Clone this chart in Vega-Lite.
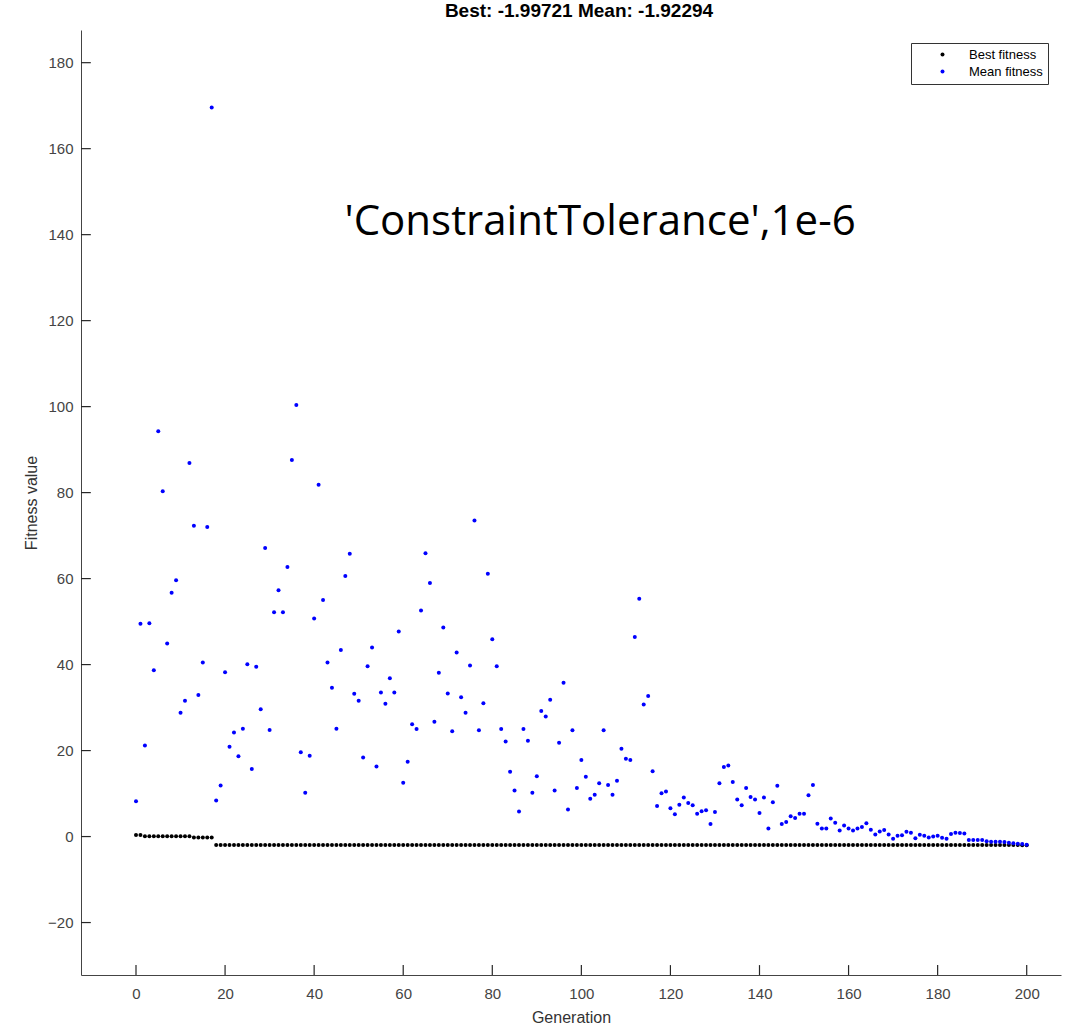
{
  "$schema": "https://vega.github.io/schema/vega-lite/v6.json",
  "width": 980,
  "height": 945,
  "autosize": {"type": "none"},
  "padding": {"left": 81, "top": 30, "right": 13, "bottom": 54},
  "background": "white",
  "title": {"text": "Best: -1.99721 Mean: -1.92294", "font": "Liberation Sans", "fontSize": 19, "fontWeight": "bold", "color": "black", "anchor": "middle", "offset": 9, "dx": 8},
  "config": {"view": {"stroke": null}, "font": "Liberation Sans"},
  "datasets": {
    "ga": [
      {"gen":0,"best":0.35,"mean":8.2},{"gen":1,"best":0.35,"mean":49.5},{"gen":2,"best":0.05,"mean":21.2},{"gen":3,"best":0.05,"mean":49.6},{"gen":4,"best":0.05,"mean":38.7},
      {"gen":5,"best":0.05,"mean":94.3},{"gen":6,"best":0.05,"mean":80.3},{"gen":7,"best":0.05,"mean":44.9},{"gen":8,"best":0.05,"mean":56.7},{"gen":9,"best":0.05,"mean":59.6},
      {"gen":10,"best":0.05,"mean":28.8},{"gen":11,"best":0.05,"mean":31.6},{"gen":12,"best":0.05,"mean":86.9},{"gen":13,"best":-0.2,"mean":72.3},{"gen":14,"best":-0.2,"mean":32.9},
      {"gen":15,"best":-0.2,"mean":40.5},{"gen":16,"best":-0.2,"mean":72.0},{"gen":17,"best":-0.2,"mean":169.6},{"gen":18,"best":-1.96,"mean":8.4},{"gen":19,"best":-1.96,"mean":11.9},
      {"gen":20,"best":-1.96,"mean":38.2},{"gen":21,"best":-1.96,"mean":20.9},{"gen":22,"best":-1.96,"mean":24.2},{"gen":23,"best":-1.96,"mean":18.7},{"gen":24,"best":-1.96,"mean":25.1},
      {"gen":25,"best":-1.96,"mean":40.1},{"gen":26,"best":-1.96,"mean":15.7},{"gen":27,"best":-1.96,"mean":39.5},{"gen":28,"best":-1.96,"mean":29.6},{"gen":29,"best":-1.96,"mean":67.1},
      {"gen":30,"best":-1.96,"mean":24.8},{"gen":31,"best":-1.96,"mean":52.2},{"gen":32,"best":-1.96,"mean":57.3},{"gen":33,"best":-1.96,"mean":52.2},{"gen":34,"best":-1.96,"mean":62.7},
      {"gen":35,"best":-1.96,"mean":87.6},{"gen":36,"best":-1.96,"mean":100.4},{"gen":37,"best":-1.96,"mean":19.6},{"gen":38,"best":-1.96,"mean":10.2},{"gen":39,"best":-1.96,"mean":18.8},
      {"gen":40,"best":-1.96,"mean":50.7},{"gen":41,"best":-1.96,"mean":81.8},{"gen":42,"best":-1.96,"mean":55.0},{"gen":43,"best":-1.96,"mean":40.5},{"gen":44,"best":-1.96,"mean":34.6},
      {"gen":45,"best":-1.96,"mean":25.1},{"gen":46,"best":-1.96,"mean":43.4},{"gen":47,"best":-1.96,"mean":60.6},{"gen":48,"best":-1.96,"mean":65.8},{"gen":49,"best":-1.96,"mean":33.2},
      {"gen":50,"best":-1.96,"mean":31.6},{"gen":51,"best":-1.96,"mean":18.4},{"gen":52,"best":-1.96,"mean":39.6},{"gen":53,"best":-1.96,"mean":44.0},{"gen":54,"best":-1.96,"mean":16.3},
      {"gen":55,"best":-1.96,"mean":33.5},{"gen":56,"best":-1.96,"mean":30.9},{"gen":57,"best":-1.96,"mean":36.8},{"gen":58,"best":-1.96,"mean":33.5},{"gen":59,"best":-1.96,"mean":47.7},
      {"gen":60,"best":-1.96,"mean":12.5},{"gen":61,"best":-1.96,"mean":17.4},{"gen":62,"best":-1.96,"mean":26.1},{"gen":63,"best":-1.96,"mean":25.0},{"gen":64,"best":-1.96,"mean":52.6},
      {"gen":65,"best":-1.96,"mean":65.9},{"gen":66,"best":-1.96,"mean":59.0},{"gen":67,"best":-1.96,"mean":26.7},{"gen":68,"best":-1.96,"mean":38.1},{"gen":69,"best":-1.96,"mean":48.6},
      {"gen":70,"best":-1.96,"mean":33.3},{"gen":71,"best":-1.96,"mean":24.5},{"gen":72,"best":-1.96,"mean":42.8},{"gen":73,"best":-1.96,"mean":32.4},{"gen":74,"best":-1.96,"mean":28.8},
      {"gen":75,"best":-1.96,"mean":39.8},{"gen":76,"best":-1.96,"mean":73.5},{"gen":77,"best":-1.96,"mean":24.7},{"gen":78,"best":-1.96,"mean":31.0},{"gen":79,"best":-1.96,"mean":61.1},
      {"gen":80,"best":-1.96,"mean":45.9},{"gen":81,"best":-1.96,"mean":39.6},{"gen":82,"best":-1.96,"mean":25.0},{"gen":83,"best":-1.96,"mean":22.1},{"gen":84,"best":-1.96,"mean":15.1},
      {"gen":85,"best":-1.96,"mean":10.7},{"gen":86,"best":-1.96,"mean":5.8},{"gen":87,"best":-1.96,"mean":25.0},{"gen":88,"best":-1.96,"mean":22.3},{"gen":89,"best":-1.96,"mean":10.2},
      {"gen":90,"best":-1.96,"mean":14.0},{"gen":91,"best":-1.96,"mean":29.2},{"gen":92,"best":-1.96,"mean":27.9},{"gen":93,"best":-1.96,"mean":31.8},{"gen":94,"best":-1.96,"mean":10.7},
      {"gen":95,"best":-1.96,"mean":21.8},{"gen":96,"best":-1.96,"mean":35.8},{"gen":97,"best":-1.96,"mean":6.3},{"gen":98,"best":-1.96,"mean":24.7},{"gen":99,"best":-1.96,"mean":11.3},
      {"gen":100,"best":-1.97,"mean":17.8},{"gen":101,"best":-1.97,"mean":13.9},{"gen":102,"best":-1.97,"mean":8.8},{"gen":103,"best":-1.97,"mean":9.7},{"gen":104,"best":-1.97,"mean":12.4},
      {"gen":105,"best":-1.97,"mean":24.7},{"gen":106,"best":-1.97,"mean":12.0},{"gen":107,"best":-1.97,"mean":9.7},{"gen":108,"best":-1.97,"mean":13.0},{"gen":109,"best":-1.97,"mean":20.4},
      {"gen":110,"best":-1.97,"mean":18.1},{"gen":111,"best":-1.97,"mean":17.8},{"gen":112,"best":-1.97,"mean":46.4},{"gen":113,"best":-1.97,"mean":55.3},{"gen":114,"best":-1.97,"mean":30.7},
      {"gen":115,"best":-1.97,"mean":32.7},{"gen":116,"best":-1.97,"mean":15.2},{"gen":117,"best":-1.97,"mean":7.1},{"gen":118,"best":-1.97,"mean":10.1},{"gen":119,"best":-1.97,"mean":10.5},
      {"gen":120,"best":-1.97,"mean":6.6},{"gen":121,"best":-1.97,"mean":5.2},{"gen":122,"best":-1.97,"mean":7.4},{"gen":123,"best":-1.97,"mean":9.1},{"gen":124,"best":-1.97,"mean":7.8},
      {"gen":125,"best":-1.97,"mean":7.3},{"gen":126,"best":-1.97,"mean":5.3},{"gen":127,"best":-1.97,"mean":5.9},{"gen":128,"best":-1.97,"mean":6.1},{"gen":129,"best":-1.97,"mean":2.9},
      {"gen":130,"best":-1.97,"mean":5.7},{"gen":131,"best":-1.97,"mean":12.4},{"gen":132,"best":-1.97,"mean":16.2},{"gen":133,"best":-1.97,"mean":16.5},{"gen":134,"best":-1.97,"mean":12.7},
      {"gen":135,"best":-1.97,"mean":8.6},{"gen":136,"best":-1.97,"mean":7.3},{"gen":137,"best":-1.97,"mean":11.3},{"gen":138,"best":-1.97,"mean":9.2},{"gen":139,"best":-1.97,"mean":8.6},
      {"gen":140,"best":-1.97,"mean":5.5},{"gen":141,"best":-1.97,"mean":9.1},{"gen":142,"best":-1.97,"mean":1.9},{"gen":143,"best":-1.97,"mean":8.0},{"gen":144,"best":-1.97,"mean":11.8},
      {"gen":145,"best":-1.97,"mean":2.9},{"gen":146,"best":-1.97,"mean":3.4},{"gen":147,"best":-1.97,"mean":4.7},{"gen":148,"best":-1.97,"mean":4.3},{"gen":149,"best":-1.97,"mean":5.3},
      {"gen":150,"best":-1.98,"mean":5.3},{"gen":151,"best":-1.98,"mean":9.6},{"gen":152,"best":-1.98,"mean":12.0},{"gen":153,"best":-1.98,"mean":3.0},{"gen":154,"best":-1.98,"mean":1.9},
      {"gen":155,"best":-1.98,"mean":1.9},{"gen":156,"best":-1.98,"mean":4.2},{"gen":157,"best":-1.98,"mean":3.2},{"gen":158,"best":-1.98,"mean":1.4},{"gen":159,"best":-1.98,"mean":2.6},
      {"gen":160,"best":-1.98,"mean":1.9},{"gen":161,"best":-1.98,"mean":1.4},{"gen":162,"best":-1.98,"mean":1.9},{"gen":163,"best":-1.98,"mean":2.2},{"gen":164,"best":-1.98,"mean":3.1},
      {"gen":165,"best":-1.98,"mean":1.6},{"gen":166,"best":-1.98,"mean":0.5},{"gen":167,"best":-1.98,"mean":1.2},{"gen":168,"best":-1.98,"mean":1.5},{"gen":169,"best":-1.98,"mean":0.5},
      {"gen":170,"best":-1.98,"mean":-0.5},{"gen":171,"best":-1.98,"mean":0.2},{"gen":172,"best":-1.98,"mean":0.3},{"gen":173,"best":-1.98,"mean":1.1},{"gen":174,"best":-1.98,"mean":0.9},
      {"gen":175,"best":-1.99,"mean":-0.4},{"gen":176,"best":-1.99,"mean":0.4},{"gen":177,"best":-1.99,"mean":0.2},{"gen":178,"best":-1.99,"mean":-0.2},{"gen":179,"best":-1.99,"mean":0.0},
      {"gen":180,"best":-1.99,"mean":0.2},{"gen":181,"best":-1.99,"mean":-0.3},{"gen":182,"best":-1.99,"mean":-0.5},{"gen":183,"best":-1.99,"mean":0.6},{"gen":184,"best":-1.99,"mean":0.9},
      {"gen":185,"best":-1.99,"mean":0.8},{"gen":186,"best":-1.99,"mean":0.7},{"gen":187,"best":-1.99,"mean":-0.8},{"gen":188,"best":-1.99,"mean":-0.8},{"gen":189,"best":-1.99,"mean":-0.8},
      {"gen":190,"best":-1.99,"mean":-0.8},{"gen":191,"best":-1.99,"mean":-1.1},{"gen":192,"best":-1.99,"mean":-1.2},{"gen":193,"best":-1.99,"mean":-1.2},{"gen":194,"best":-1.99,"mean":-1.2},
      {"gen":195,"best":-1.99,"mean":-1.25},{"gen":196,"best":-1.99,"mean":-1.45},{"gen":197,"best":-1.99,"mean":-1.55},{"gen":198,"best":-1.99,"mean":-1.65},{"gen":199,"best":-1.997,"mean":-1.75},
      {"gen":200,"best":-1.99721,"mean":-1.92294}
    ],
    "note": [{"label": "'ConstraintTolerance',1e-6", "gx": 104.2, "fy": 143}],
    "xticks": [{"t":0},{"t":20},{"t":40},{"t":60},{"t":80},{"t":100},{"t":120},{"t":140},{"t":160},{"t":180},{"t":200}],
    "yticks": [{"t":-20},{"t":0},{"t":20},{"t":40},{"t":60},{"t":80},{"t":100},{"t":120},{"t":140},{"t":160},{"t":180}]
  },
  "layer": [
    {
      "data": {"name": "xticks"},
      "mark": {"type": "rule", "color": "#262626", "strokeWidth": 1.2},
      "encoding": {
        "x": {"field": "t", "type": "quantitative",
          "scale": {"domain": [-12.35, 207.7], "nice": false, "zero": false},
          "axis": {"title": "Generation", "values": [0,20,40,60,80,100,120,140,160,180,200], "grid": false,
            "ticks": false, "tickSize": 0, "domainColor": "#444", "labelColor": "#444", "labelFontSize": 15,
            "labelPadding": 11, "titleFontSize": 16, "titleFontWeight": "normal", "titleColor": "#333", "titlePadding": 8}},
        "y": {"datum": -32.2, "type": "quantitative",
          "scale": {"domain": [-32.2, 187.6], "nice": false, "zero": false},
          "axis": {"title": "Fitness value", "values": [-20,0,20,40,60,80,100,120,140,160,180], "grid": false,
            "ticks": false, "tickSize": 0, "domainColor": "#444", "labelColor": "#444", "labelFontSize": 15,
            "labelPadding": 8, "titleFontSize": 16, "titleFontWeight": "normal", "titleColor": "#333", "titlePadding": 8}},
        "y2": {"datum": -29.9}
      }
    },
    {
      "data": {"name": "yticks"},
      "mark": {"type": "rule", "color": "#262626", "strokeWidth": 1.2},
      "encoding": {
        "y": {"field": "t", "type": "quantitative"},
        "x": {"datum": -12.35, "type": "quantitative"},
        "x2": {"datum": -10.15}
      }
    },
    {
      "data": {"name": "ga"},
      "transform": [{"fold": ["best", "mean"], "as": ["series", "value"]}],
      "mark": {"type": "point", "filled": true, "size": 16, "opacity": 1, "shape": "circle"},
      "encoding": {
        "x": {"field": "gen", "type": "quantitative"},
        "y": {"field": "value", "type": "quantitative"},
        "color": {"field": "series", "type": "nominal",
          "scale": {"domain": ["best", "mean"], "range": ["black", "#0000ff"]},
          "legend": {"title": null, "orient": "none", "legendX": 830, "legendY": 13, "direction": "vertical",
            "labelExpr": "datum.label == 'best' ? 'Best fitness' : 'Mean fitness'",
            "strokeColor": "#333", "fillColor": "white", "padding": 5, "symbolSize": 16, "symbolType": "circle",
            "symbolOffset": 20, "labelOffset": 20, "labelFontSize": 13, "labelColor": "black", "rowPadding": 3, "symbolStrokeWidth": 0}}
      }
    },
    {
      "data": {"name": "note"},
      "mark": {"type": "text", "font": "Open Sans", "fontSize": 42, "color": "black", "align": "center", "baseline": "middle"},
      "encoding": {
        "x": {"field": "gx", "type": "quantitative"},
        "y": {"field": "fy", "type": "quantitative"},
        "text": {"field": "label"}
      }
    }
  ]
}
